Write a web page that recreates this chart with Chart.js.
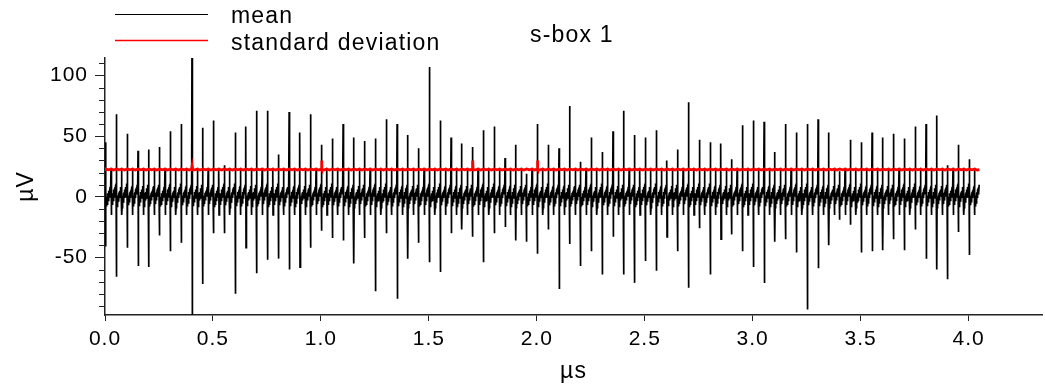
<!DOCTYPE html>
<html>
<head>
<meta charset="utf-8">
<script src="https://cdn.jsdelivr.net/npm/chart.js@4.4.0/dist/chart.umd.min.js"></script>
<style>
  html, body { margin: 0; padding: 0; background: #fff; }
</style>
</head>
<body>
<canvas id="my-chart" width="1045" height="387"></canvas>
<script>
"use strict";

// x axis (µs) and y axis (µV) tick values
const xTicks = [0, 0.5, 1.0, 1.5, 2.0, 2.5, 3.0, 3.5, 4.0];
const yMajorTicks = [-50, 0, 50, 100];

// one big spike every 50 ns: peak and trough per spike (µV)
const spikeUp = [
  45, 68, 52, 38, 39, 41, 54, 60, 130, 57,
  63, 26, 53, 58, 71, 71, 35, 70, 53, 68,
  43, 48, 60, 49, 46, 48, 64, 60, 51, 40,
  107, 63, 49, 44, 41, 55, 58, 32, 43, 19,
  60, 43, 40, 75, 29, 49, 37, 54, 71, 51,
  49, 55, 30, 39, 78, 47, 45, 44, 31, 59,
  63, 62, 37, 60, 53, 60, 64, 53, 21, 47,
  45, 53, 49, 52, 48, 58, 60, 67, 26, 43,
  31
];
const spikeDown = [
  -41, -66, -42, -57, -58, -32, -45, -38, -110, -72,
  -30, -30, -80, -42, -63, -52, -51, -60, -58, -42,
  -28, -34, -36, -55, -34, -78, -30, -84, -51, -38,
  -54, -62, -30, -27, -33, -54, -30, -25, -36, -37,
  -47, -27, -76, -39, -57, -45, -64, -33, -64, -71,
  -53, -61, -33, -45, -75, -26, -64, -35, -31, -45,
  -58, -71, -37, -35, -46, -93, -59, -40, -19, -23,
  -46, -45, -44, -35, -44, -27, -51, -60, -68, -29,
  -48
];

// shape of the mean trace between two big spikes (phase of the period, µV)
const shapePhase = [
  0.015, 0.035, 0.055, 0.075, 0.095, 0.115, 0.135, 0.16, 0.185, 0.21,
  0.235, 0.26, 0.285, 0.31, 0.335, 0.36, 0.385, 0.41, 0.435, 0.46,
  0.48, 0.50, 0.506, 0.52, 0.54, 0.56, 0.58, 0.60, 0.62, 0.645,
  0.67, 0.695, 0.72, 0.745, 0.77, 0.795, 0.82, 0.845, 0.87, 0.895,
  0.92, 0.945, 0.965, 0.985
];
const shapeValue = [
  -9, -2, -8, -1, -7, 0, -6, 1, -4, 3,
  -3, 4, -1, 5, 0, 6, 2, 8, 3, 9,
  5, 24, -15, -9, -2, -8, -1, -6, 1, -5,
  3, -3, 4, -1, 6, 0, 7, 2, 8, 3,
  10, 4, 11, 6
];

// standard deviation: flat level with a few small bumps at spikes
const stdPhase = [0, 0.25, 0.5, 0.75];
const stdLevel = [23.0, 22.2, 22.8, 22.1];
const stdBumpSpike = [8, 20, 34, 40];
const stdBumpValue = [25, 30, 30, 30];

const firstSpike = 0.003;
const period = 0.05;
const traceEnd = 4.05;

function buildMean() {
  const pts = [{ x: 0, y: -3 }];
  for (let k = 0; k < spikeUp.length; k++) {
    const t0 = firstSpike + k * period;
    pts.push({ x: t0, y: spikeUp[k] });
    pts.push({ x: t0 + 0.0003, y: spikeDown[k] });
    for (let i = 0; i < shapePhase.length; i++) {
      const t = t0 + shapePhase[i] * period;
      if (t > traceEnd) break;
      pts.push({ x: t, y: shapeValue[i] });
    }
  }
  return pts;
}

function buildStd() {
  const pts = [{ x: 0, y: 22.4 }];
  for (let k = 0; k < spikeUp.length; k++) {
    const t0 = firstSpike + k * period;
    for (let i = 0; i < stdPhase.length; i++) {
      const t = t0 + stdPhase[i] * period;
      if (t > traceEnd) break;
      const b = stdBumpSpike.indexOf(k);
      if (i === 0 && b >= 0) {
        pts.push({ x: t - 0.002, y: stdLevel[0] });
        pts.push({ x: t, y: stdBumpValue[b] });
        pts.push({ x: t + 0.002, y: stdLevel[1] });
        continue;
      }
      pts.push({ x: t, y: stdLevel[i] });
    }
  }
  pts.push({ x: traceEnd, y: 22.5 });
  return pts;
}

const fontFamily = "'Liberation Sans', Arial, sans-serif";
Chart.defaults.font.family = fontFamily;
Chart.defaults.font.size = 21;
Chart.defaults.color = "#000";

const axisColor = "#222";

// letter spacing for the wide-set labels
const spacingPlugin = {
  id: "spacing",
  beforeUpdate(chart) { chart.ctx.letterSpacing = "1px"; },
  beforeDraw(chart) { chart.ctx.letterSpacing = "1px"; },
};

// minor ticks on the y axis every 10 µV, plus legend and title text
const extrasPlugin = {
  id: "extras",
  afterDraw(chart) {
    const ctx = chart.ctx;
    const y = chart.scales.y;
    ctx.save();
    ctx.strokeStyle = axisColor;
    ctx.lineWidth = 1.2;
    ctx.beginPath();
    for (let v = Math.ceil(y.min / 10) * 10; v <= y.max; v += 10) {
      if (v % 50 === 0) continue;
      const py = Math.round(y.getPixelForValue(v)) + 0.5;
      ctx.moveTo(y.right - 6, py);
      ctx.lineTo(y.right, py);
    }
    ctx.stroke();

    ctx.font = "23px " + fontFamily;
    ctx.letterSpacing = "1.2px";
    ctx.fillStyle = "#000";
    ctx.textBaseline = "alphabetic";

    ctx.lineWidth = 1;
    ctx.strokeStyle = "#000";
    ctx.beginPath();
    ctx.moveTo(115, 14.5);
    ctx.lineTo(208, 14.5);
    ctx.stroke();
    ctx.fillText("mean", 231, 23);

    ctx.lineWidth = 1.5;
    ctx.strokeStyle = "#ff0000";
    ctx.beginPath();
    ctx.moveTo(115, 40.5);
    ctx.lineTo(208, 40.5);
    ctx.stroke();
    ctx.fillText("standard deviation", 231, 50);

    ctx.fillText("s-box 1", 530, 42);
    ctx.restore();
  },
};

const ctx = document.getElementById("my-chart");

new Chart(ctx, {
  type: "line",
  data: {
    datasets: [
      {
        label: "standard deviation",
        data: buildStd(),
        borderColor: "#ff0000",
        borderWidth: 2.8,
      },
      {
        label: "mean",
        data: buildMean(),
        borderColor: "#000",
        borderWidth: 1.7,
      },
    ],
  },
  options: {
    responsive: false,
    animation: false,
    devicePixelRatio: 1,
    parsing: false,
    normalized: true,
    events: [],
    elements: {
      point: { radius: 0 },
      line: { tension: 0 },
    },
    layout: { padding: { top: 58, right: 3, left: 0, bottom: 0 } },
    plugins: {
      legend: { display: false },
      tooltip: { enabled: false },
    },
    scales: {
      x: {
        type: "linear",
        min: 0,
        max: 4.34,
        afterFit(scale) { scale.height = 72; },
        afterBuildTicks(scale) { scale.ticks = xTicks.map((v) => ({ value: v })); },
        ticks: {
          padding: 6,
          callback: (v) => v.toFixed(1),
          maxRotation: 0,
        },
        grid: {
          drawOnChartArea: false,
          tickLength: 6,
          tickColor: axisColor,
        },
        border: { color: axisColor, width: 1.5 },
        title: {
          display: true,
          text: "µs",
          font: { size: 23 },
          padding: { bottom: 2 },
        },
      },
      y: {
        type: "linear",
        min: -97.5,
        max: 114.5,
        afterFit(scale) { scale.width = 105; },
        afterBuildTicks(scale) { scale.ticks = yMajorTicks.map((v) => ({ value: v })); },
        ticks: {
          padding: 7,
          callback: (v) => String(v),
        },
        grid: {
          drawOnChartArea: false,
          tickLength: 10,
          tickColor: axisColor,
        },
        border: { color: axisColor, width: 1.5 },
        title: {
          display: true,
          text: "µV",
          font: { size: 23 },
          padding: { top: 13 },
        },
      },
    },
  },
  plugins: [spacingPlugin, extrasPlugin],
});
</script>
</body>
</html>
